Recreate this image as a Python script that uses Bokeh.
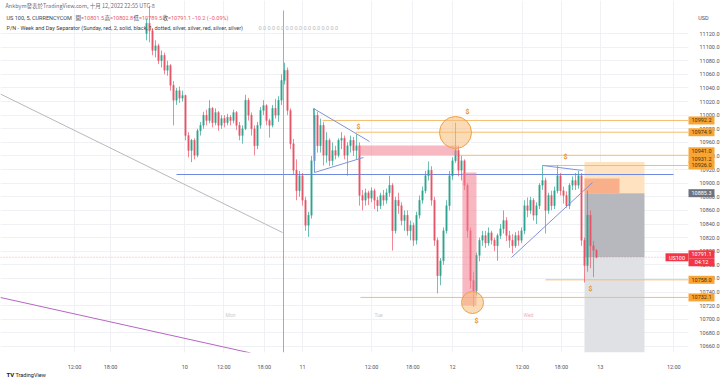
from bokeh.plotting import figure
from bokeh.models import (Range1d, FixedTicker, CustomJSTickFormatter,
                          PrintfTickFormatter, ColumnDataSource)
from bokeh.core.properties import value
from bokeh.embed import file_html
from bokeh.resources import INLINE

# ------------------------------------------------------------------ data
opens = [11120, 11135, 11124, 11095, 11102, 11080, 11088, 11066, 11073, 11044,
         11022, 11036, 11025, 11029, 10970, 10948, 10963, 10941, 10977, 10985,
         11000, 10992, 11010, 10989, 11004, 10985, 10995, 10989, 10997, 10992,
         11004, 10985, 10970, 10980, 11022, 11000, 10980, 10955, 10985, 11007,
         11014, 10992, 10985, 11010, 11000, 11022, 11051, 11066, 11007, 10958,
         10919, 10889, 10911, 10875, 10838, 10853, 10933, 11000, 10955, 10985,
         10941, 10963, 10933, 10948, 10941, 10963, 10966, 10941, 10955, 10963,
         10948, 10955, 10882, 10875, 10886, 10878, 10889, 10875, 10867, 10882,
         10875, 10886, 10897, 10830, 10875, 10867, 10845, 10853, 10830, 10838,
         10816, 10853, 10875, 10889, 10911, 10919, 10875, 10816, 10764, 10786,
         10830, 10867, 10911, 10933, 10948, 10919, 10933, 10897, 10830, 10757,
         10742, 10794, 10816, 10823, 10812, 10827, 10816, 10808, 10823, 10833,
         10845, 10823, 10816, 10808, 10823, 10816, 10830, 10867, 10860, 10875,
         10853, 10867, 10897, 10904, 10860, 10882, 10867, 10889, 10911, 10889,
         10882, 10867, 10897, 10904, 10897, 10911, 10816, 10779, 10853, 10808,
         10801.5]
highs = [11142, 11161, 11128, 11110, 11105, 11095, 11092, 11080, 11075, 11050,
         11040, 11042, 11036, 11030, 10975, 10965, 10966, 10980, 10990, 11005,
         11008, 11022, 11012, 11010, 11006, 11000, 11000, 11002, 11000, 11008,
         11006, 10990, 10985, 11030, 11025, 11004, 10985, 10990, 11012, 11022,
         11016, 10995, 11015, 11024, 11028, 11060, 11077, 11070, 11010, 10965,
         10935, 10918, 10915, 10880, 10858, 10940, 11010, 11005, 10995, 10990,
         10975, 10966, 10960, 10955, 10966, 10975, 10970, 10960, 10970, 10968,
         10972, 10960, 10890, 10892, 10889, 10894, 10892, 10880, 10886, 10890,
         10892, 10911, 10900, 10880, 10886, 10872, 10860, 10860, 10845, 10842,
         10858, 10882, 10895, 10918, 10932, 10925, 10880, 10820, 10790, 10835,
         10875, 10918, 10938, 10989, 10955, 10940, 10935, 10900, 10835, 10770,
         10798, 10820, 10830, 10830, 10835, 10830, 10820, 10826, 10840, 10860,
         10850, 10830, 10825, 10828, 10830, 10835, 10875, 10879, 10880, 10878,
         10872, 10900, 10926, 10908, 10886, 10889, 10895, 10926, 10915, 10895,
         10888, 10900, 10910, 10915, 10918, 10915, 10820, 10889, 10860, 10815,
         10802.8]
lows = [11110, 11107, 11088, 11085, 11075, 11070, 11060, 11058, 11036, 10985,
        11015, 11018, 11020, 10963, 10938, 10931, 10935, 10938, 10970, 10980,
        10985, 10988, 10982, 10985, 10977, 10980, 10982, 10985, 10985, 10988,
        10978, 10963, 10958, 10978, 10992, 10970, 10941, 10950, 10980, 11000,
        10985, 10967, 10982, 10995, 10990, 11015, 11045, 11000, 10950, 10912,
        10875, 10880, 10867, 10830, 10821, 10848, 10925, 10945, 10945, 10926,
        10930, 10925, 10926, 10935, 10938, 10950, 10935, 10911, 10945, 10940,
        10935, 10867, 10860, 10867, 10868, 10872, 10862, 10858, 10862, 10867,
        10870, 10880, 10801, 10826, 10855, 10838, 10830, 10823, 10816, 10808,
        10810, 10848, 10870, 10885, 10904, 10867, 10808, 10738, 10750, 10780,
        10826, 10860, 10905, 10930, 10910, 10904, 10890, 10820, 10745, 10718,
        10735, 10785, 10808, 10805, 10808, 10810, 10800, 10786, 10818, 10826,
        10815, 10805, 10797, 10805, 10808, 10812, 10825, 10850, 10855, 10845,
        10840, 10862, 10890, 10826, 10855, 10860, 10862, 10885, 10882, 10870,
        10864, 10862, 10890, 10890, 10892, 10808, 10754, 10770, 10775, 10762,
        10789.5]
closes = [11135, 11124, 11095, 11102, 11080, 11088, 11066, 11073, 11044, 11022,
          11036, 11025, 11029, 10970, 10948, 10963, 10941, 10977, 10985, 11000,
          10992, 11010, 10989, 11004, 10985, 10995, 10989, 10997, 10992, 11004,
          10985, 10970, 10980, 11022, 11000, 10980, 10955, 10985, 11007, 11014,
          10992, 10985, 11010, 11000, 11022, 11051, 11066, 11007, 10958, 10919,
          10889, 10911, 10875, 10838, 10853, 10933, 11000, 10955, 10985, 10941,
          10963, 10933, 10948, 10941, 10963, 10966, 10941, 10955, 10963, 10948,
          10955, 10882, 10875, 10886, 10878, 10889, 10875, 10867, 10882, 10875,
          10886, 10897, 10830, 10875, 10867, 10845, 10853, 10830, 10838, 10816,
          10853, 10875, 10889, 10911, 10919, 10875, 10816, 10764, 10786, 10830,
          10867, 10911, 10933, 10948, 10919, 10933, 10897, 10830, 10757, 10742,
          10794, 10816, 10823, 10812, 10827, 10816, 10808, 10823, 10833, 10845,
          10823, 10816, 10808, 10823, 10816, 10830, 10867, 10860, 10875, 10853,
          10867, 10897, 10904, 10860, 10882, 10867, 10889, 10911, 10889, 10882,
          10867, 10897, 10904, 10897, 10911, 10816, 10779, 10853, 10808, 10801.5,
          10791.1]
bars = list(range(len(closes)))

time_tick_bars = [-24, -12, 12.75, 25.75, 39.25, 52, 75, 88.75, 102,
                  125.25, 138.25, 151.25, 175.75]
time_tick_labels = ["12:00", "18:00", "10", "12:00", "18:00", "11", "12:00",
                    "18:00", "12", "12:00", "18:00", "13", "12:00"]
price_ticks = list(range(10660, 11121, 20))

last_price = 10791.1
blue_level = 10912.8
alert_prices = [10992.2, 10974.9, 10941.0, 10926.0, 10758.0, 10732.1]
alert_start_bars = [58.7, 69.7, 103.7, 132.0, 133.0, 71.3]
trend_gray = ([-48.67, 45.33], [11031.0, 10827.5])
trend_purple = ([-48.67, 34.67], [10732.0, 10650.5])
tri_x0 = [55.67, 55.67, 56.0, 132.0, 121.67]
tri_y0 = [11009.8, 11009.8, 10915.7, 10926.0, 10790.8]
tri_x1 = [74.33, 56.0, 72.33, 145.33, 148.67]
tri_y1 = [10961.3, 10915.7, 10937.8, 10918.7, 10901.0]
pink_left = [70.7, 105.3]
pink_right = [103.7, 110.0]
pink_top = [10955.4, 10915.7]
pink_bottom = [10940.7, 10720.2]
circle_bar = [103.0, 108.67]
circle_price = [10974.5, 10724.6]
circle_r = [16, 11]
week_sep_bar = 45.67
pos_left, pos_right = 146.0, 166.0
pos_stop, pos_entry, pos_fill_top, pos_target = 10931.2, 10885.3, 10907.0, 10651.0

# price tags on the scale: text, price, shift (px, up), background, text colour
ORANGE_TAG, TAG_TXT = "#f7a537", "#4a3000"
tag_texts = ["10992.2", "10974.9", "10941.0", "10931.2", "10926.0", "10885.3",
             "10758.0", "10732.1", "10791.1", "04:12"]
tag_prices = [10992.2, 10974.9, 10941.0, 10931.2, 10926.0, 10885.3,
              10758.0, 10732.1, 10791.1, 10791.1]
tag_shift = [0, 0, 4, 3, 0, 0, 0, 0, 3, -5]
tag_bg = [ORANGE_TAG] * 5 + ["#6f727d"] + [ORANGE_TAG] * 2 + ["#f23645"] * 2
tag_fg = [TAG_TXT] * 5 + ["white"] + [TAG_TXT] * 2 + ["white"] * 2

# ------------------------------------------------------------------ layout
W, H = 720, 381
PANE_W, PANE_H = 688, 352
BAR_PX, FIRST_BAR_PX = 3.0, 146.0
REF_PRICE, REF_PX, PX_PER_POINT = 11120.0, 33.0, 0.6804


def bx(px):
    return (px - FIRST_BAR_PX) / BAR_PX


def py(pix):
    return REF_PRICE - (pix - REF_PX) / PX_PER_POINT


PT = 1.0 / PX_PER_POINT  # price points per pixel
FONT = "Roboto"
CJK = "Noto Sans CJK TC"
UP, DOWN = "#2ea58f", "#e8566a"
ORANGE_LINE = "#f6bd6e"

p = figure(width=W, height=H,
           x_range=Range1d(bx(0), bx(W)), y_range=Range1d(py(H), py(0)),
           y_axis_location="right", toolbar_location=None, output_backend="svg",
           min_border_left=0, min_border_top=0, min_border_right=0, min_border_bottom=0)
p.outline_line_color = None
p.background_fill_color = "white"
p.border_fill_color = "white"

xa = p.xaxis[0]
xa.ticker = FixedTicker(ticks=time_tick_bars)
xa.formatter = CustomJSTickFormatter(
    args=dict(pos=time_tick_bars, lab=time_tick_labels),
    code="const i = pos.indexOf(tick); return i < 0 ? '' : lab[i];")
xa.fixed_location = py(PANE_H)
ya = p.yaxis[0]
ya.ticker = FixedTicker(ticks=price_ticks)
ya.formatter = PrintfTickFormatter(format="%.1f")
ya.fixed_location = bx(PANE_W)
for ax in (xa, ya):
    ax.axis_line_color = None
    ax.major_tick_line_color = None
    ax.minor_tick_line_color = None
    ax.major_label_text_font = FONT
    ax.major_label_text_font_size = "5.5px"
    ax.major_label_text_color = "#50535e"
    ax.major_label_standoff = 5
p.xgrid.grid_line_color = "#f0f1f4"
p.ygrid.grid_line_color = "#f0f1f4"

# position tool
p.quad(left=[pos_left], right=[pos_right], top=[pos_stop], bottom=[pos_entry],
       fill_color="#ffe3c0", line_color=None)
p.quad(left=[pos_left], right=[bx(619)], top=[pos_fill_top], bottom=[pos_entry],
       fill_color="#f9b08a", line_color=None)
p.quad(left=[pos_left], right=[pos_right], top=[pos_entry], bottom=[last_price],
       fill_color="#b6b8be", line_color=None)
p.quad(left=[pos_left], right=[pos_right], top=[last_price], bottom=[pos_target],
       fill_color="#e0e1e5", line_color=None)

# trend lines / separators
p.line(trend_gray[0], trend_gray[1], line_color="#b8b8b8", line_width=1)
p.line(trend_purple[0], trend_purple[1], line_color="#b565c4", line_width=1)
p.segment(x0=[week_sep_bar], y0=[py(10)], x1=[week_sep_bar], y1=[py(PANE_H)],
          line_color="#a9abb0", line_width=1)
p.segment(x0=[bx(0)], y0=[last_price], x1=[bx(665)], y1=[last_price],
          line_color="#ef5350", line_dash="1 2", line_alpha=0.6, line_width=0.8)
p.segment(x0=alert_start_bars, y0=alert_prices,
          x1=[bx(PANE_W)] * len(alert_prices), y1=alert_prices,
          line_color=ORANGE_LINE, line_width=1)
p.segment(x0=[10.0], y0=[blue_level], x1=[bx(673)], y1=[blue_level],
          line_color="#6f88e0", line_width=1.2)

# candles
src = ColumnDataSource(dict(
    x=bars, o=opens, h=highs, l=lows, c=closes,
    top=[max(a, b) for a, b in zip(opens, closes)],
    bottom=[min(a, b) for a, b in zip(opens, closes)],
    color=[UP if c >= o else DOWN for o, c in zip(opens, closes)]))
p.segment(x0="x", y0="l", x1="x", y1="h", line_color="color", line_width=0.7, source=src)
p.vbar(x="x", width=0.52, top="top", bottom="bottom", fill_color="color",
       line_color="color", line_width=0.3, source=src)

# drawings over the candles
p.quad(left=pink_left, right=pink_right, top=pink_top, bottom=pink_bottom,
       fill_color="#f27d8f", fill_alpha=0.55, line_color=None)
p.segment(x0=tri_x0, y0=tri_y0, x1=tri_x1, y1=tri_y1, line_color="#8292d8", line_width=1)
p.circle(x=circle_bar, y=circle_price, radius=circle_r, radius_units="screen",
         fill_color="#f7be7a", fill_alpha=0.55, line_color="#f0a040", line_width=1)

# white price-scale column and time-scale strip (cover grid lines there)
p.quad(left=[bx(PANE_W), bx(0)], right=[bx(W), bx(W)],
       top=[py(0), py(PANE_H)], bottom=[py(H), py(H)],
       fill_color="white", line_color=None)


def add_text(px, pix, text, size="5.5px", color="#3c3f48", font=FONT, align="left",
             bold=False):
    p.text(x=[bx(px)], y=[py(pix)], text=[text], text_font=value(font),
           text_font_size=value(size), text_color=color, text_align=align,
           text_baseline="middle", text_font_style="bold" if bold else "normal",
           level="overlay")


# header / legend
add_text(5, 5, "Ankbym發表於TradingView.com, 十月 12, 2022 22:55 UTC-8",
         color="#6a6d78", font=CJK)
add_text(6, 17, "US 100, 5, CURRENCYCOM", color="#3c3f48")
legend_names = ["開", "高", "低", "收"]
legend_vals = ["=10801.5", "=10802.8", "=10789.5", "=10791.1"]
legend_px = [75, 104, 133, 162]
for nm, vl, lx in zip(legend_names, legend_vals, legend_px):
    add_text(lx, 17, nm, color="#3c3f48", font=CJK)
    add_text(lx + 5.5, 17, vl, color=DOWN)
add_text(191, 17, "−10.2 (−0.09%)", color=DOWN)
add_text(6, 27, "P/N - Week and Day Separator (Sunday, red, 2, solid, black, 1, dotted, "
         "silver, silver, red, silver, silver)", color="#3c3f48")
add_text(258, 27, "0.0  0.0  0.0  0.0  0.0  0.0  0.0  0.0  0.0", color="#b8bac2")

# weekday watermark texts
add_text(230, 314, "Mon", size="5px", color="#c9cacf", align="center")
add_text(378, 314, "Tue", size="5px", color="#c9cacf", align="center")
add_text(528, 314, "Wed", size="5px", color="#eab2c0", align="center")

# $ alert markers
for dx, dy in [(467, 111), (358, 126), (565, 156), (476, 320), (590, 288)]:
    add_text(dx, dy, "$", size="7px", color="#e8952f", align="center", bold=True)

# price scale: currency and tags
add_text(703, 17, "USD", color="#50535e", align="center")
tag_y = [pr + s * PT for pr, s in zip(tag_prices, tag_shift)]
p.quad(left=[bx(PANE_W)] * len(tag_y), right=[bx(714)] * len(tag_y),
       top=[y + 4 * PT for y in tag_y], bottom=[y - 4 * PT for y in tag_y],
       fill_color=tag_bg, line_color=None, level="overlay")
p.text(x=[bx(701)] * len(tag_y), y=tag_y, text=tag_texts, text_font=value(FONT),
       text_font_size=value("5.5px"), text_color=tag_fg, text_align="center",
       text_baseline="middle", level="overlay")
p.quad(left=[bx(665)], right=[bx(PANE_W)], top=[last_price + 4 * PT],
       bottom=[last_price - 4 * PT], fill_color="#f23645", line_color=None, level="overlay")
add_text(676.5, 257, "US100", color="white", align="center")

# footer logo
add_text(6, 374, "TV", size="6px", color="#131722", bold=True)
add_text(15, 374, "TradingView", size="5.5px", color="#131722")

open("out.html", "w").write(file_html(p, INLINE))
